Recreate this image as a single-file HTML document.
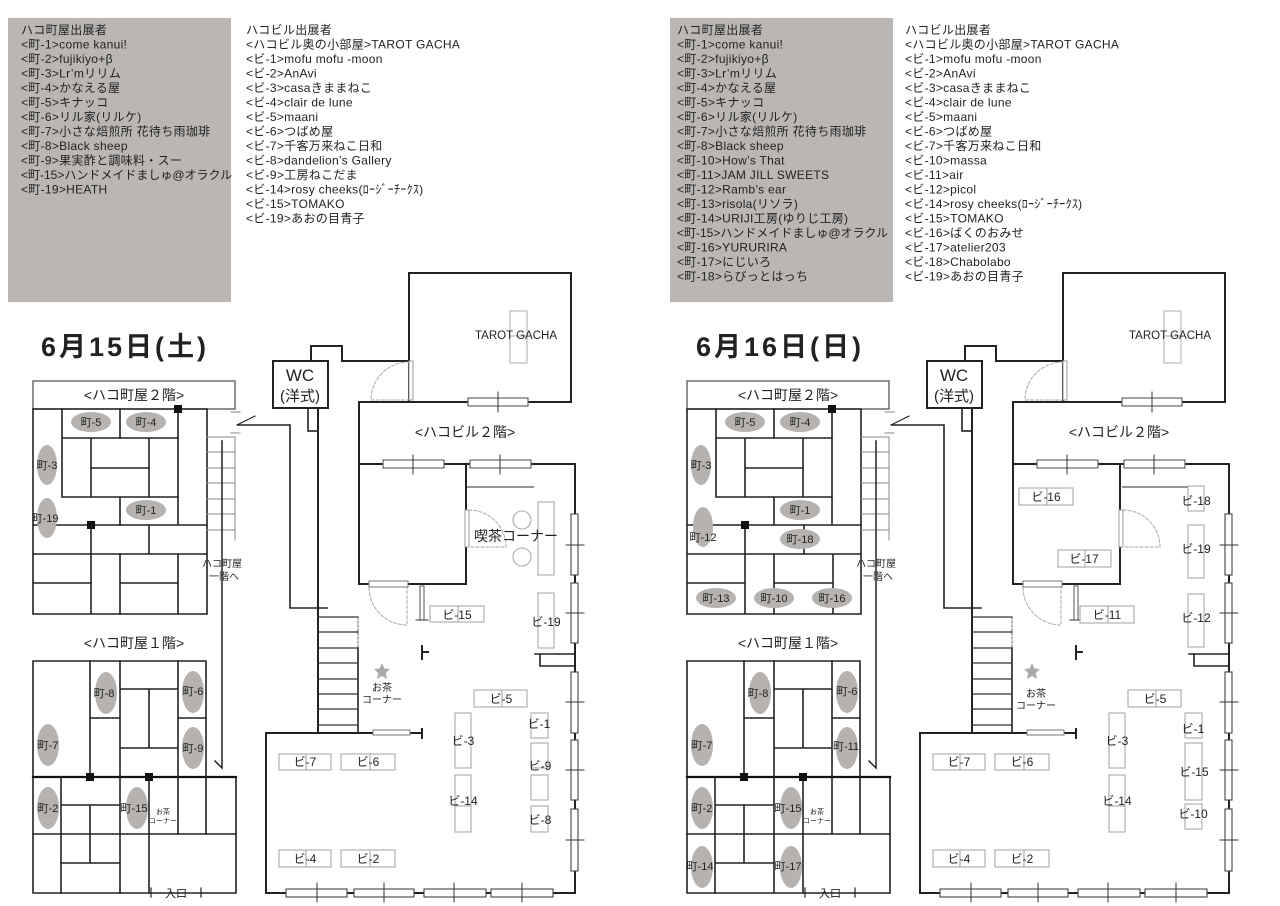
<!DOCTYPE html>
<html><head><meta charset="utf-8"><style>
html,body{margin:0;padding:0;background:#fff;}
svg{display:block;}
text{font-family:"Liberation Sans","Noto Sans CJK JP",sans-serif;fill:#222;}
</style></head><body>
<svg width="1280" height="906" viewBox="0 0 1280 906" xmlns="http://www.w3.org/2000/svg">
<defs>
<g id="base" fill="none" stroke-linecap="square">
 <rect x="33" y="381" width="202" height="28" stroke="#555" stroke-width="1.3"/>
 <g stroke="#222" stroke-width="1.6">
  <path d="M33,409 H207 V614 M33,409 V614 M178,409 V525 M33,525 H207"/>
  <path d="M62,409 V497 M62,438 H178 M120,409 V438 M62,497 H178 M91,438 V497 M149,438 V497 M91,468 H149 M120,497 V525"/>
 </g>
 <rect x="174" y="405" width="8" height="8" fill="#111"/>
 <rect x="87" y="521" width="8" height="8" fill="#111"/>
 <g stroke="#888" stroke-width="1">
  <path d="M235,437 V540 M207,437 H235 M207,452 H235 M207,468 H235 M207,483 H235 M207,499 H235 M207,514 H235 M207,530 H235"/>
  <path d="M231,412 H240 M231,433 H240"/>
 </g>
 <path d="M237,425 L255,416" stroke="#222" stroke-width="1.2"/>
 <path d="M222,441 V768 L215,761" stroke="#222" stroke-width="1.5"/>
 <path d="M238,425 H290 V608 H327" stroke="#222" stroke-width="1.6"/>
 <g stroke="#222" stroke-width="1.6">
  <path d="M33,661 H206 V777 M33,661 V893 H236 V777 H33"/>
  <path d="M90,661 V777 M120,661 V777 M178,661 V777 M120,689 H178 M120,748 H178 M149,689 V748 M90,718 H120 M178,718 H206"/>
  <path d="M61,777 V893 M33,834 H236 M120,777 V893 M149,777 V893 M178,777 V834 M206,777 V834 M61,805 H120 M90,805 V863 M61,863 H120"/>
 </g>
 <path d="M33,777 H236" stroke="#111" stroke-width="2.2"/>
 <rect x="86" y="773" width="8" height="8" fill="#111"/>
 <rect x="145" y="773" width="8" height="8" fill="#111"/>
 <path d="M151,888 V897 M201,888 V897" stroke="#222" stroke-width="1.2"/>
 <rect x="273" y="361" width="55" height="47" stroke="#222" stroke-width="2"/>
 <path d="M311,361 V346 H342 V361 H409" stroke="#222" stroke-width="2"/>
 <rect x="308" y="408" width="10" height="23" stroke="#222" stroke-width="1.6"/>
 <path d="M318,408 V733" stroke="#222" stroke-width="2"/>
 <rect x="409" y="273" width="162" height="129" stroke="#222" stroke-width="2"/>
 <rect x="409" y="361" width="4" height="39" stroke="#999" stroke-width="1" fill="#fff"/>
 <path d="M409,362 A38,38 0 0 0 371,400 H409" stroke="#aaa" stroke-width="1" stroke-dasharray="3,2"/>
 <rect x="468" y="398" width="60" height="8" stroke="#666" stroke-width="1.2" fill="#fff"/>
 <path d="M498,392 V412" stroke="#333" stroke-width="1"/>
 <rect x="510" y="311" width="17" height="52" stroke="#bbb" stroke-width="1.2"/>
 <path d="M510,336 H527" stroke="#bbb" stroke-width="1.2"/>
 <path d="M409,402 H359 V584 H466 V464 H359 M466,464 H575 V893 H266 V733 H422" stroke="#222" stroke-width="2"/>
 <path d="M422,729 V738" stroke="#222" stroke-width="2"/>
 <rect x="373" y="730" width="37" height="5" stroke="#777" stroke-width="1" fill="#fff"/>
 <rect x="383" y="460" width="61" height="8" stroke="#666" stroke-width="1.2" fill="#fff"/>
 <path d="M413,455 V474" stroke="#333" stroke-width="1"/>
 <rect x="470" y="460" width="61" height="8" stroke="#666" stroke-width="1.2" fill="#fff"/>
 <path d="M500,455 V474" stroke="#333" stroke-width="1"/>
 <rect x="465" y="510" width="4" height="37" stroke="#999" stroke-width="1" fill="#fff"/>
 <path d="M469,510 A37,37 0 0 1 506,547 H469" stroke="#aaa" stroke-width="1" stroke-dasharray="3,2"/>
 <rect x="369" y="581" width="39" height="6" stroke="#777" stroke-width="1" fill="#fff"/>
 <path d="M369,588 A38,38 0 0 0 407,625 V588" stroke="#aaa" stroke-width="1" stroke-dasharray="3,2"/>
 <rect x="420" y="586" width="4" height="34" stroke="#555" stroke-width="1" fill="#fff"/>
 <path d="M416,620 H428" stroke="#333" stroke-width="1"/>
 <path d="M422,646 V659 M422,652 H428" stroke="#222" stroke-width="2"/>
 <g stroke="#444" stroke-width="1.1" fill="#fff">
  <rect x="571" y="514" width="7" height="61"/><rect x="571" y="583" width="7" height="60"/>
  <rect x="571" y="672" width="7" height="61"/><rect x="571" y="740" width="7" height="60"/><rect x="571" y="809" width="7" height="62"/>
  <rect x="286" y="889" width="61" height="8"/><rect x="354" y="889" width="60" height="8"/><rect x="424" y="889" width="62" height="8"/><rect x="491" y="889" width="62" height="8"/>
 </g>
 <path d="M566,545 H584 M566,613 H584 M566,702 H584 M566,770 H584 M566,840 H584 M317,883 V902 M384,883 V902 M454,883 V902 M522,883 V902" stroke="#333" stroke-width="1"/>
 <path d="M535,654 H575 M540,654 V666 H575" stroke="#222" stroke-width="1.6"/>
 <path d="M358,648 V733" stroke="#222" stroke-width="1.6"/>
 <path d="M358,617 V648" stroke="#666" stroke-width="1" stroke-dasharray="2,2"/>
 <path d="M318,617 H358 M318,632 H358 M318,648 H358 M318,663 H358 M318,679 H358 M318,694 H358 M318,709 H358 M318,725 H358" stroke="#333" stroke-width="1.2"/>
 <g stroke="#aaa" stroke-width="1.1" fill="#fff">
  <rect x="279" y="754" width="27" height="16"/><rect x="306" y="754" width="25" height="16"/>
  <rect x="341" y="754" width="29" height="16"/><rect x="370" y="754" width="25" height="16"/>
  <rect x="279" y="850" width="27" height="17"/><rect x="306" y="850" width="25" height="17"/>
  <rect x="341" y="850" width="29" height="17"/><rect x="370" y="850" width="25" height="17"/>
  <rect x="474" y="690" width="28" height="17"/><rect x="502" y="690" width="25" height="17"/>
  <rect x="455" y="713" width="16" height="55"/>
  <rect x="455" y="775" width="16" height="31"/><rect x="455" y="806" width="16" height="26"/>
  <rect x="531" y="713" width="17" height="25"/>
 </g>
</g>
</defs>

<rect x="8" y="18" width="223" height="284" fill="#b9b6b3"/>
<rect x="670" y="18" width="223" height="284" fill="#b9b6b3"/>

<g font-size="12" letter-spacing="0.3">
<text x="21" y="34">ハコ町屋出展者</text>
<text x="21" y="48.5">&lt;町-1&gt;come kanui!</text>
<text x="21" y="63">&lt;町-2&gt;fujikiyo+β</text>
<text x="21" y="77.5">&lt;町-3&gt;Lr’mリリム</text>
<text x="21" y="92">&lt;町-4&gt;かなえる屋</text>
<text x="21" y="106.5">&lt;町-5&gt;キナッコ</text>
<text x="21" y="121">&lt;町-6&gt;リル家(リルケ)</text>
<text x="21" y="135.5">&lt;町-7&gt;小さな焙煎所 花待ち雨珈琲</text>
<text x="21" y="150">&lt;町-8&gt;Black sheep</text>
<text x="21" y="164.5">&lt;町-9&gt;果実酢と調味料・スー</text>
<text x="21" y="179" letter-spacing="0">&lt;町-15&gt;ハンドメイドましゅ@オラクル</text>
<text x="21" y="193.5">&lt;町-19&gt;HEATH</text>

<text x="246" y="34">ハコビル出展者</text>
<text x="246" y="48.5">&lt;ハコビル奥の小部屋&gt;TAROT GACHA</text>
<text x="246" y="63">&lt;ビ-1&gt;mofu mofu -moon</text>
<text x="246" y="77.5">&lt;ビ-2&gt;AnAvi</text>
<text x="246" y="92">&lt;ビ-3&gt;casaきままねこ</text>
<text x="246" y="106.5">&lt;ビ-4&gt;clair de lune</text>
<text x="246" y="121">&lt;ビ-5&gt;maani</text>
<text x="246" y="135.5">&lt;ビ-6&gt;つばめ屋</text>
<text x="246" y="150">&lt;ビ-7&gt;千客万来ねこ日和</text>
<text x="246" y="164.5">&lt;ビ-8&gt;dandelion’s Gallery</text>
<text x="246" y="179">&lt;ビ-9&gt;工房ねこだま</text>
<text x="246" y="193.5">&lt;ビ-14&gt;rosy cheeks(ﾛｰｼﾞｰﾁｰｸｽ)</text>
<text x="246" y="208">&lt;ビ-15&gt;TOMAKO</text>
<text x="246" y="222.5">&lt;ビ-19&gt;あおの目青子</text>

<text x="677" y="34">ハコ町屋出展者</text>
<text x="677" y="48.5">&lt;町-1&gt;come kanui!</text>
<text x="677" y="63">&lt;町-2&gt;fujikiyo+β</text>
<text x="677" y="77.5">&lt;町-3&gt;Lr’mリリム</text>
<text x="677" y="92">&lt;町-4&gt;かなえる屋</text>
<text x="677" y="106.5">&lt;町-5&gt;キナッコ</text>
<text x="677" y="121">&lt;町-6&gt;リル家(リルケ)</text>
<text x="677" y="135.5">&lt;町-7&gt;小さな焙煎所 花待ち雨珈琲</text>
<text x="677" y="150">&lt;町-8&gt;Black sheep</text>
<text x="677" y="164.5">&lt;町-10&gt;How’s That</text>
<text x="677" y="179">&lt;町-11&gt;JAM JILL SWEETS</text>
<text x="677" y="193.5">&lt;町-12&gt;Ramb’s ear</text>
<text x="677" y="208">&lt;町-13&gt;risola(リソラ)</text>
<text x="677" y="222.5">&lt;町-14&gt;URIJI工房(ゆりじ工房)</text>
<text x="677" y="237" letter-spacing="0">&lt;町-15&gt;ハンドメイドましゅ@オラクル</text>
<text x="677" y="251.5">&lt;町-16&gt;YURURIRA</text>
<text x="677" y="266">&lt;町-17&gt;にじいろ</text>
<text x="677" y="280.5">&lt;町-18&gt;らびっとはっち</text>

<text x="905" y="34">ハコビル出展者</text>
<text x="905" y="48.5">&lt;ハコビル奥の小部屋&gt;TAROT GACHA</text>
<text x="905" y="63">&lt;ビ-1&gt;mofu mofu -moon</text>
<text x="905" y="77.5">&lt;ビ-2&gt;AnAvi</text>
<text x="905" y="92">&lt;ビ-3&gt;casaきままねこ</text>
<text x="905" y="106.5">&lt;ビ-4&gt;clair de lune</text>
<text x="905" y="121">&lt;ビ-5&gt;maani</text>
<text x="905" y="135.5">&lt;ビ-6&gt;つばめ屋</text>
<text x="905" y="150">&lt;ビ-7&gt;千客万来ねこ日和</text>
<text x="905" y="164.5">&lt;ビ-10&gt;massa</text>
<text x="905" y="179">&lt;ビ-11&gt;air</text>
<text x="905" y="193.5">&lt;ビ-12&gt;picol</text>
<text x="905" y="208">&lt;ビ-14&gt;rosy cheeks(ﾛｰｼﾞｰﾁｰｸｽ)</text>
<text x="905" y="222.5">&lt;ビ-15&gt;TOMAKO</text>
<text x="905" y="237">&lt;ビ-16&gt;ばくのおみせ</text>
<text x="905" y="251.5">&lt;ビ-17&gt;atelier203</text>
<text x="905" y="266">&lt;ビ-18&gt;Chabolabo</text>
<text x="905" y="280.5">&lt;ビ-19&gt;あおの目青子</text>
</g>

<text x="41" y="356" font-size="27" font-weight="bold" letter-spacing="3" fill="#111">6月15日(土)</text>
<text x="696" y="356" font-size="27" font-weight="bold" letter-spacing="3" fill="#111">6月16日(日)</text>

<use href="#base"/>
<use href="#base" x="654"/>

<g stroke="#222" stroke-width="1.6" fill="none">
 <path d="M33,554 H207 M149,525 V554 M91,525 V614 M120,554 V614 M178,554 V614 M33,583 H91 M120,583 H178 M33,614 H207"/>
 <path d="M687,554 H861 M804,525 V554 M745,525 V614 M774,554 V614 M833,554 V614 M687,583 H745 M774,583 H833 M687,614 H861"/>
</g>
<g stroke="#555" stroke-width="1.2" fill="none">
 <path d="M467,487 H534 M1122,487 H1188"/>
</g>
<g stroke="#aaa" stroke-width="1.1" fill="#fff">
 <rect x="538" y="502" width="16" height="73"/>
 <circle cx="522" cy="520" r="9"/><circle cx="522" cy="557" r="9"/>
 <rect x="430" y="606" width="28" height="16"/><rect x="458" y="606" width="26" height="16"/>
 <rect x="538" y="593" width="16" height="55"/>
 <rect x="531" y="743" width="17" height="25"/><rect x="531" y="775" width="17" height="25"/>
 <rect x="531" y="806" width="17" height="26"/>
 <rect x="1019" y="488" width="28" height="17"/><rect x="1047" y="488" width="26" height="17"/>
 <rect x="1058" y="550" width="27" height="17"/><rect x="1085" y="550" width="26" height="17"/>
 <rect x="1188" y="486" width="16" height="25"/>
 <rect x="1188" y="525" width="16" height="53"/>
 <rect x="1188" y="594" width="16" height="53"/>
 <rect x="1080" y="606" width="28" height="17"/><rect x="1108" y="606" width="26" height="17"/>
 <rect x="1185" y="743" width="17" height="57"/>
 <rect x="1185" y="804" width="17" height="25"/>
</g>

<g fill="#b5b2af">
 <ellipse cx="91" cy="422" rx="20" ry="10"/><ellipse cx="146" cy="422" rx="20" ry="10"/>
 <ellipse cx="47" cy="465" rx="10" ry="20"/><ellipse cx="47" cy="518" rx="10" ry="20"/>
 <ellipse cx="146" cy="510" rx="20" ry="10"/>
 <ellipse cx="106" cy="693" rx="11" ry="21"/><ellipse cx="193" cy="692" rx="11" ry="21"/>
 <ellipse cx="48" cy="745" rx="11" ry="21"/><ellipse cx="193" cy="748" rx="11" ry="21"/>
 <ellipse cx="48" cy="808" rx="11" ry="21"/><ellipse cx="137" cy="808" rx="11" ry="21"/>
 <ellipse cx="745" cy="422" rx="20" ry="10"/><ellipse cx="800" cy="422" rx="20" ry="10"/>
 <ellipse cx="701" cy="465" rx="10" ry="20"/><ellipse cx="703" cy="527" rx="10" ry="20"/>
 <ellipse cx="800" cy="510" rx="20" ry="10"/>
 <ellipse cx="800" cy="539" rx="20" ry="10"/>
 <ellipse cx="716" cy="598" rx="20" ry="10"/><ellipse cx="774" cy="598" rx="20" ry="10"/><ellipse cx="832" cy="598" rx="20" ry="10"/>
 <ellipse cx="760" cy="693" rx="11" ry="21"/><ellipse cx="847" cy="692" rx="11" ry="21"/>
 <ellipse cx="702" cy="745" rx="11" ry="21"/><ellipse cx="847" cy="748" rx="11" ry="21"/>
 <ellipse cx="702" cy="808" rx="11" ry="21"/><ellipse cx="791" cy="808" rx="11" ry="21"/>
 <ellipse cx="702" cy="867" rx="11" ry="21"/><ellipse cx="791" cy="867" rx="11" ry="21"/>
</g>
<rect x="741" y="521" width="8" height="8" fill="#111"/>

<path d="M382,663 L384.4,668.5 L390,669 L385.8,673 L387,679 L382,676 L377,679 L378.2,673 L374,669 L379.6,668.5 Z" fill="#aaa"/>
<path d="M1032,663 L1034.4,668.5 L1040,669 L1035.8,673 L1037,679 L1032,676 L1027,679 L1028.2,673 L1024,669 L1029.6,668.5 Z" fill="#aaa"/>

<g font-size="11" text-anchor="middle">
 <text x="91" y="426">町-5</text><text x="146" y="426">町-4</text>
 <text x="47" y="469">町-3</text><text x="45" y="522">町-19</text><text x="146" y="514">町-1</text>
 <text x="104" y="697">町-8</text><text x="193" y="695">町-6</text><text x="48" y="749">町-7</text>
 <text x="193" y="752">町-9</text><text x="48" y="812">町-2</text><text x="134" y="812">町-15</text>
 <text x="745" y="426">町-5</text><text x="800" y="426">町-4</text>
 <text x="701" y="469">町-3</text><text x="703" y="541">町-12</text><text x="800" y="514">町-1</text>
 <text x="800" y="543">町-18</text>
 <text x="716" y="602">町-13</text><text x="774" y="602">町-10</text><text x="832" y="602">町-16</text>
 <text x="758" y="697">町-8</text><text x="847" y="695">町-6</text><text x="702" y="749">町-7</text>
 <text x="846" y="750">町-11</text><text x="702" y="812">町-2</text><text x="788" y="812">町-15</text>
 <text x="700" y="870">町-14</text><text x="788" y="870">町-17</text>
</g>
<g font-size="12" text-anchor="middle">
 <text x="305" y="766">ビ-7</text><text x="368" y="766">ビ-6</text>
 <text x="305" y="863">ビ-4</text><text x="368" y="863">ビ-2</text>
 <text x="501" y="703">ビ-5</text><text x="463" y="745">ビ-3</text><text x="463" y="805">ビ-14</text>
 <text x="539" y="728">ビ-1</text><text x="540" y="770">ビ-9</text><text x="540" y="824">ビ-8</text>
 <text x="457" y="619">ビ-15</text><text x="546" y="626">ビ-19</text>
 <text x="959" y="766">ビ-7</text><text x="1022" y="766">ビ-6</text>
 <text x="959" y="863">ビ-4</text><text x="1022" y="863">ビ-2</text>
 <text x="1155" y="703">ビ-5</text><text x="1117" y="745">ビ-3</text><text x="1117" y="805">ビ-14</text>
 <text x="1193" y="733">ビ-1</text><text x="1194" y="776">ビ-15</text><text x="1193" y="818">ビ-10</text>
 <text x="1046" y="501">ビ-16</text><text x="1084" y="563">ビ-17</text>
 <text x="1196" y="505">ビ-18</text><text x="1196" y="553">ビ-19</text><text x="1196" y="622">ビ-12</text>
 <text x="1107" y="619">ビ-11</text>
</g>

<g font-size="14" text-anchor="middle">
 <text x="134" y="400">&lt;ハコ町屋２階&gt;</text>
 <text x="134" y="648">&lt;ハコ町屋１階&gt;</text>
 <text x="465" y="437">&lt;ハコビル２階&gt;</text>
 <text x="788" y="400">&lt;ハコ町屋２階&gt;</text>
 <text x="788" y="648">&lt;ハコ町屋１階&gt;</text>
 <text x="1119" y="437">&lt;ハコビル２階&gt;</text>
</g>
<g text-anchor="middle">
 <text x="300" y="381" font-size="17">WC</text><text x="300" y="401" font-size="15">(洋式)</text>
 <text x="954" y="381" font-size="17">WC</text><text x="954" y="401" font-size="15">(洋式)</text>
 <text x="516" y="339" font-size="11.5">TAROT GACHA</text>
 <text x="1170" y="339" font-size="11.5">TAROT GACHA</text>
 <text x="516" y="541" font-size="14">喫茶コーナー</text>
 <text x="382" y="691" font-size="10">お茶</text><text x="382" y="703" font-size="10">コーナー</text>
 <text x="1036" y="697" font-size="10">お茶</text><text x="1036" y="709" font-size="10">コーナー</text>
 <text x="222" y="567" font-size="10">ハコ町屋</text><text x="224" y="580" font-size="10">一階へ</text>
 <text x="876" y="567" font-size="10">ハコ町屋</text><text x="878" y="580" font-size="10">一階へ</text>
 <text x="163" y="814" font-size="7">お茶</text><text x="163" y="823" font-size="7">コーナー</text>
 <text x="817" y="814" font-size="7">お茶</text><text x="817" y="823" font-size="7">コーナー</text>
 <text x="176" y="897" font-size="11">入口</text>
 <text x="830" y="897" font-size="11">入口</text>
</g>
</svg>
</body></html>
